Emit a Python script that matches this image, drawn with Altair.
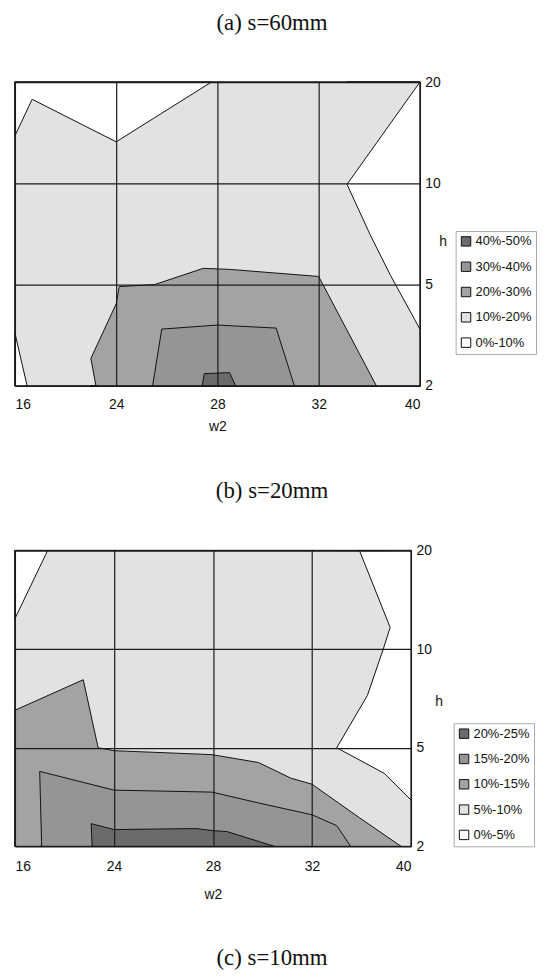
import altair as alt
import pandas as pd

# ---------------- data ----------------
W2_TICKS = [16, 24, 28, 32, 40]   # evenly spaced on the horizontal axis
H_TICKS = [2, 5, 10, 20]          # evenly spaced on the vertical axis

TITLES = ["(a) s=60mm", "(b) s=20mm", "(c) s=10mm"]
A_CLASSES = ["40%-50%", "30%-40%", "20%-30%", "10%-20%", "0%-10%"]
B_CLASSES = ["20%-25%", "15%-20%", "10%-15%", "5%-10%", "0%-5%"]
SHADES = ["#6b6b6b", "#959595", "#a3a3a3", "#e2e2e2", "#ffffff"]

# contour polygons, vertices given as positions on the tick grid
# (w2 tick index, h tick index); each polygon is closed against a base h index
# --- (a) s=60mm
a_bg_x, a_bg_y = [0, 4], [3, 3]
a_top_x, a_top_y = [0, 0.17, 1.0, 1.94], [2.47, 2.83, 2.41, 3.0]
a_right_x, a_right_y = [4.0, 3.28, 3.51, 3.71, 4.0], [3.0, 1.99, 1.49, 1.09, 0.56]
a_corner_x, a_corner_y = [0, 0.12], [0.52, 0]
a_20_x = [0.80, 0.75, 1.0, 1.03, 1.38, 1.86, 2.12, 3.0, 3.57]
a_20_y = [0, 0.27, 0.81, 0.98, 1.0, 1.16, 1.15, 1.08, 0]
a_30_x = [1.36, 1.45, 2.0, 2.58, 2.76]
a_30_y = [0, 0.56, 0.60, 0.57, 0]
a_40_x = [1.85, 1.87, 2.12, 2.18]
a_40_y = [0, 0.12, 0.13, 0]

# --- (b) s=20mm
b_bg_x, b_bg_y = [0, 4], [3, 3]
b_top_x, b_top_y = [0, 0.33], [2.31, 3.0]
b_right_x = [3.48, 3.79, 3.72, 3.56, 3.25, 3.73, 4.0]
b_right_y = [3.0, 2.22, 2.0, 1.53, 1.0, 0.74, 0.47]
b_10_x = [0, 0.69, 0.84, 1.0, 1.99, 2.46, 2.79, 3.0, 3.48, 3.90]
b_10_y = [1.38, 1.69, 1.0, 0.97, 0.93, 0.85, 0.69, 0.63, 0.29, 0]
b_15_x = [0.27, 0.25, 1.0, 1.99, 2.46, 3.0, 3.25, 3.39]
b_15_y = [0, 0.76, 0.57, 0.55, 0.44, 0.32, 0.21, 0]
b_20_x = [0.78, 0.77, 1.0, 1.83, 1.99, 2.14, 2.62]
b_20_y = [0, 0.23, 0.17, 0.18, 0.16, 0.15, 0]

A_REGIONS = [
    ("bg", A_CLASSES[3], 0, a_bg_x, a_bg_y),
    ("top", A_CLASSES[4], 3, a_top_x, a_top_y),
    ("right", A_CLASSES[4], 3, a_right_x, a_right_y),
    ("corner", A_CLASSES[4], 0, a_corner_x, a_corner_y),
    ("c20", A_CLASSES[2], 0, a_20_x, a_20_y),
    ("c30", A_CLASSES[1], 0, a_30_x, a_30_y),
    ("c40", A_CLASSES[0], 0, a_40_x, a_40_y),
]
B_REGIONS = [
    ("bg", B_CLASSES[3], 0, b_bg_x, b_bg_y),
    ("top", B_CLASSES[4], 3, b_top_x, b_top_y),
    ("right", B_CLASSES[4], 3, b_right_x, b_right_y),
    ("c10", B_CLASSES[2], 0, b_10_x, b_10_y),
    ("c15", B_CLASSES[1], 0, b_15_x, b_15_y),
    ("c20", B_CLASSES[0], 0, b_20_x, b_20_y),
]

SANS = "Liberation Sans"
SERIF = "Liberation Serif"


def to_df(regions):
    rows = []
    for name, cls, base, xs, ys in regions:
        for x, y in zip(xs, ys):
            rows.append({"region": name, "cls": cls, "x": x, "y": y, "base": base})
    return pd.DataFrame(rows)


def panel(regions, classes, w, h, legend_x, legend_y, title_x, title_y, xlabel_pad, xtitle_pad):
    df = to_df(regions)
    xlab = "[" + ",".join(f"'{v}'" for v in W2_TICKS) + "][datum.value]"
    ylab = "[" + ",".join(f"'{v}'" for v in H_TICKS) + "][datum.value]"
    x_enc = alt.X("x:Q", scale=alt.Scale(domain=[0, len(W2_TICKS) - 1], nice=False, zero=False),
                  axis=alt.Axis(values=list(range(len(W2_TICKS))), labelExpr=xlab, title="w2",
                                grid=True, gridColor="#1a1a1a", gridWidth=1.2, ticks=False, tickSize=0,
                                domain=False, labelFlush=True, labelPadding=xlabel_pad,
                                titlePadding=xtitle_pad,
                                labelFont=SANS, labelFontSize=14, labelColor="#111",
                                titleFont=SANS, titleFontSize=14, titleFontWeight="normal",
                                titleColor="#111", zindex=1))
    y_enc = alt.Y("y:Q", scale=alt.Scale(domain=[0, len(H_TICKS) - 1], nice=False, zero=False),
                  axis=alt.Axis(values=list(range(len(H_TICKS))), labelExpr=ylab, title="h",
                                orient="right", grid=True, gridColor="#1a1a1a", gridWidth=1.2,
                                ticks=False, tickSize=0, domain=False, labelPadding=5,
                                labelFont=SANS, labelFontSize=14, labelColor="#111",
                                titleFont=SANS, titleFontSize=14, titleFontWeight="normal",
                                titleColor="#111", titleAngle=0, titleAlign="left",
                                titleBaseline="middle", titleX=title_x, titleY=title_y, zindex=1))
    c_enc = alt.Color("cls:N", scale=alt.Scale(domain=classes, range=SHADES),
                      legend=alt.Legend(title=None, orient="none", legendX=legend_x, legendY=legend_y,
                                        symbolType="square", symbolSize=90, symbolStrokeColor="#111",
                                        symbolStrokeWidth=1, labelFont=SANS, labelFontSize=13,
                                        labelColor="#111", labelOffset=3, rowPadding=10.5,
                                        strokeColor="#aaaaaa", padding=4))
    layers = []
    for name, *_ in regions:
        layers.append(
            alt.Chart(df).transform_filter(alt.datum.region == name)
            .mark_area(stroke="#111111", strokeWidth=1, interpolate="linear", order=False)
            .encode(x=x_enc, y=y_enc, y2="base:Q", color=c_enc)
        )
    return alt.layer(*layers).properties(
        width=w, height=h,
        view=alt.ViewBackground(stroke="#555555", strokeWidth=1.5),
    )


def title_row(text, h, y):
    return alt.Chart(pd.DataFrame({"t": [text]})).mark_text(
        font=SERIF, fontSize=23, color="#111", baseline="middle", align="center"
    ).encode(text="t:N", x=alt.value(259), y=alt.value(y)).properties(
        width=408, height=h, view=alt.ViewBackground(stroke="transparent"))


chart_a = panel(A_REGIONS, A_CLASSES, 408, 306, 444, 150, 19, 161, 12, 8)
chart_b = panel(B_REGIONS, B_CLASSES, 399, 298, 442, 174, 24, 152, 13, 15)

chart = alt.vconcat(
    title_row(TITLES[0], 60, 10),
    chart_a,
    title_row(TITLES[1], 107, 56),
    chart_b,
    title_row(TITLES[2], 62, 55),
    spacing=0,
).resolve_scale(
    x="independent", y="independent", color="independent"
).resolve_legend(color="independent").properties(
    padding={"left": 4, "top": 0, "right": 0, "bottom": 0}
)

chart.save("out.html", embed_options={"renderer": "svg", "actions": False})
